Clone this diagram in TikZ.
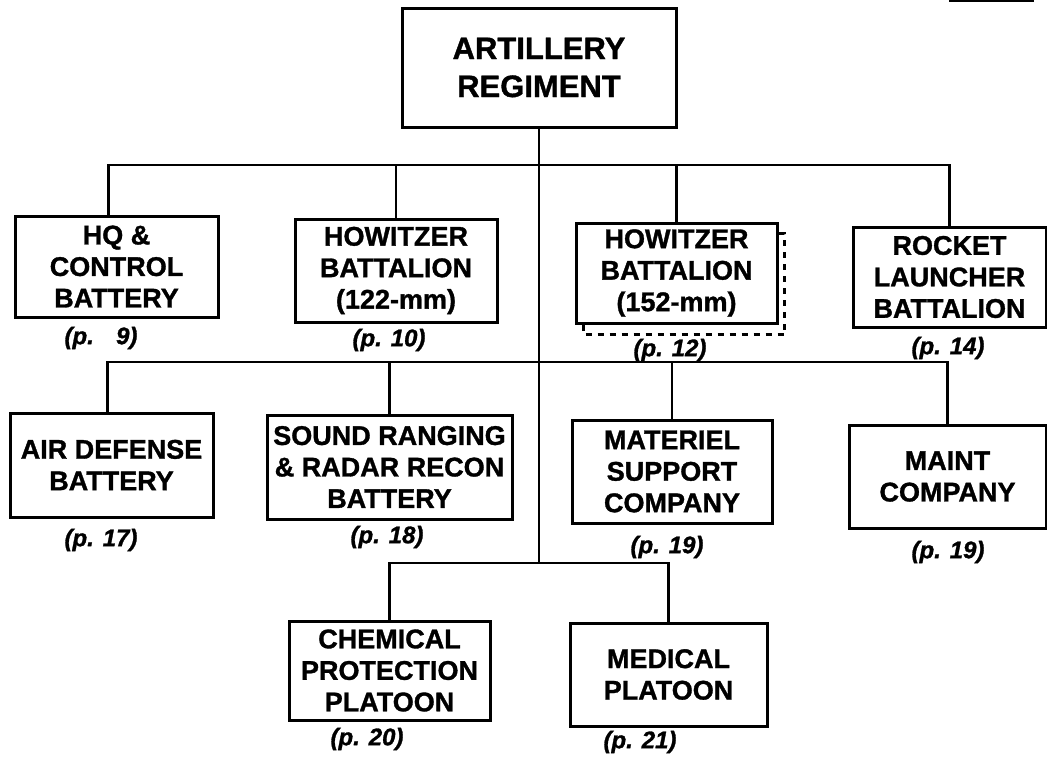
\documentclass[tikz,border=0pt]{standalone}
\usepackage{fontspec}
\setmainfont{Liberation Sans}[BoldFeatures={FakeBold=1.2}, BoldItalicFeatures={FakeBold=1.2}]
\usetikzlibrary{positioning}

\begin{document}
\begin{tikzpicture}
		[
			x=1pt, y=-1pt,
			unit/.style={rectangle, draw, line width=3pt, align=center, inner sep=0pt,
				font=\fontsize{27}{31.5}\selectfont\bfseries},
			topunit/.style={unit, font=\fontsize{31}{38}\selectfont\bfseries},
			page/.style={inner sep=0pt, font=\fontsize{24}{28}\selectfont\bfseries\itshape},
			link/.style={line width=2.3pt},
			shadow/.style={line width=2.8pt, dash pattern=on 6pt off 6pt},
		]
		\useasboundingbox (0,0) rectangle (1047,756);

		% Nodes
		\node[topunit, minimum width=274pt, minimum height=119pt] (reg) at (539,67.5) {ARTILLERY\\REGIMENT};

		\node[unit, minimum width=203pt, minimum height=101pt] (hq) at (116.5,266.5) {HQ \&\\CONTROL\\BATTERY};
		\node[unit, minimum width=202pt, minimum height=103pt] (how122) at (396,270.5) {HOWITZER\\BATTALION\\(122-mm)};
		\node[unit, minimum width=201pt, minimum height=100pt] (how152) at (676.5,273) {HOWITZER\\BATTALION\\(152-mm)};
		\node[unit, minimum width=193pt, minimum height=100pt] (rocket) at (949.5,277) {ROCKET\\LAUNCHER\\BATTALION};

		\node[unit, minimum width=203pt, minimum height=104pt] (airdef) at (111.5,465) {AIR DEFENSE\\BATTERY};
		\node[unit, minimum width=245pt, minimum height=104pt] (sound) at (389.5,467) {SOUND RANGING\\\& RADAR RECON\\BATTERY};
		\node[unit, minimum width=200pt, minimum height=103pt] (materiel) at (672,471.5) {MATERIEL\\SUPPORT\\COMPANY};
		\node[unit, minimum width=197pt, minimum height=103pt] (maint) at (947.5,476.5) {MAINT\\COMPANY};

		\node[unit, minimum width=201pt, minimum height=99pt] (chem) at (389.5,670.5) {CHEMICAL\\PROTECTION\\PLATOON};
		\node[unit, minimum width=197pt, minimum height=103pt] (medical) at (668.5,674.5) {MEDICAL\\PLATOON};

		% Pages
		\node[page] (p9) at (101,338) {(p. \hphantom{1}9)};
		\node[page] (p10) at (389,340) {(p. 10)};
		\node[page] (p12) at (670,350) {(p. 12)};
		\node[page] (p14) at (948,348) {(p. 14)};
		\node[page] (p17) at (101,540) {(p. 17)};
		\node[page] (p18) at (387,537) {(p. 18)};
		\node[page] (p19a) at (667,547) {(p. 19)};
		\node[page] (p19b) at (948,552) {(p. 19)};
		\node[page] (p20) at (367,739) {(p. 20)};
		\node[page] (p21) at (640,742) {(p. 21)};

		% Lines
		\coordinate (bus1) at (0,165);
		\coordinate (bus2) at (0,362);
		\coordinate (bus3) at (0,563);

		\draw[link] (reg.south) -- (reg.south |- bus3);

		\draw[link] ([xshift=-8pt]hq.north) -- ([xshift=-8pt]hq.north |- bus1) -| (rocket.north);
		\foreach \u in {how122, how152}
			\draw[link] (\u.north) -- (\u.north |- bus1);

		\draw[link] ([xshift=-4pt]airdef.north) -- ([xshift=-4pt]airdef.north |- bus2) -| (maint.north);
		\foreach \u in {sound, materiel}
			\draw[link] (\u.north) -- (\u.north |- bus2);

		\draw[link] (chem.north) -- (chem.north |- bus3) -| (medical.north);

		% Shadow
		\draw[shadow] ([xshift=9pt]how152.south west) |- ([shift={(6,10)}]how152.south east)
			|- ([shift={(0,12)}]how152.north east);

		% Edge mark
		\draw[line width=2.5pt] (949,1) -- (1034,1);

		\end{tikzpicture}
\end{document}
